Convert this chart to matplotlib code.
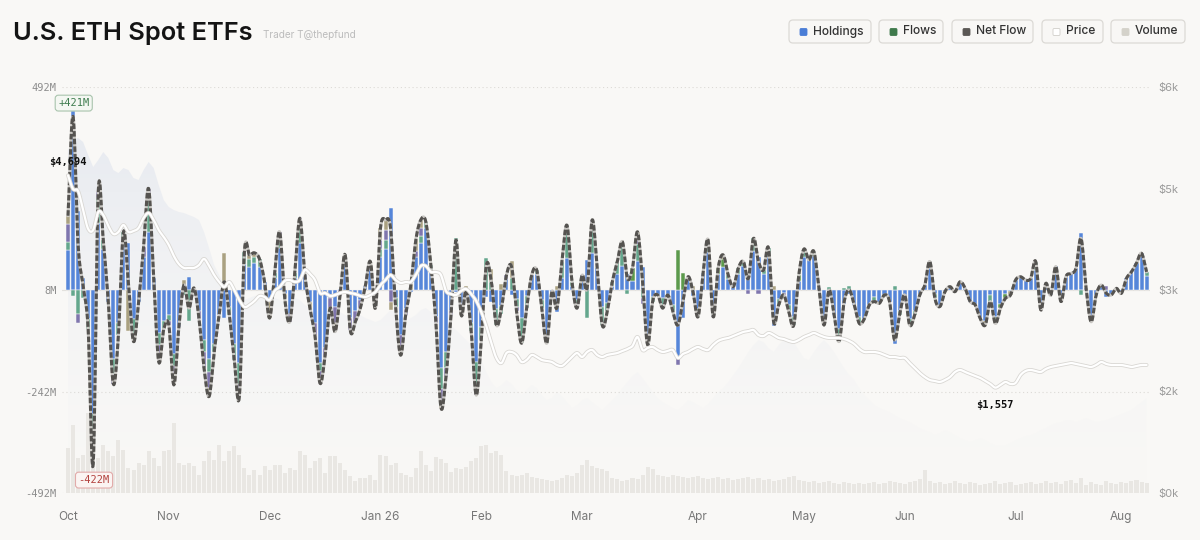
import numpy as np
import matplotlib
matplotlib.use('Agg')
import matplotlib.pyplot as plt
from matplotlib.patches import FancyBboxPatch
from matplotlib.colors import ListedColormap

plt.rcParams['font.family'] = ['Inter', 'DejaVu Sans']

# ---------------- data (daily, trading days Oct 2025 -> Aug 2026) ----------------
net_flow = [
    180, 421, 110, 10, -95, -422, 238, 120, -30, -228,
    -110, 141, 15, -125, -30, 105, 246, 30, -174, -95,
    -85, -230, -90, 12, -44, 5, -70, -190, -258, -150,
    -60, 20, -60, -170, -258, 93, 85, 90, 75, 20,
    -68, 40, 141, -20, -77, 40, 174, 36, -44, -110,
    -226, -160, -44, -101, -12, 85, -97, -77, -44, 10,
    69, -44, 150, 170, 150, -40, -158, -60, 10, 120,
    170, 165, 60, -80, -285, -210, -60, 121, -60, 0,
    -100, -255, -120, 60, 20, -85, -44, 36, 57, -52,
    -129, -44, 36, 48, -44, -129, -4, -44, 69, 157,
    20, -44, 36, 4, 170, 53, -85, -52, 20, 69,
    117, 28, 53, 141, 20, -133, -28, -12, -44, -12,
    -52, -85, -28, 32, -4, -65, 40, 121, -65, 53,
    85, 36, 8, 53, 69, 28, 125, 69, 48, 101,
    -77, -36, -12, -52, -85, 36, 99, 73, 93, 4,
    -85, 0, -60, -125, -28, 0, -36, -81, -70, -36,
    -28, -32, -12, -28, -121, -60, -12, -85, -60, -12,
    12, 69, -20, -40, -4, 8, -4, 20, 4, -28,
    -36, -69, -85, -28, -81, -44, -20, -12, 24, 32,
    24, 28, 69, -48, 16, -12, 57, -28, 32, 40,
    53, 125, 4, -77, -12, 12, -8, -12, 4, -8,
    28, 44, 65, 89, 44]

# non-blue issuer parts (day index -> $M); blue is the remainder of the net flow
teal_part = {0: 20, 1: -14, 2: -57, 3: -20, 4: -25, 5: -50, 6: 60, 7: 20, 9: -35,
             10: -30, 11: 30, 13: -40, 16: 80, 18: -30, 19: -20, 20: -15, 21: -30,
             23: -13, 24: -76, 27: -30, 28: -30, 29: -20, 32: -20, 33: -40, 34: -50,
             35: 30, 36: 20, 37: 15, 38: 20, 41: 10, 42: 30, 45: 10, 46: 40, 50: -20,
             62: 20, 63: 20, 65: -20, 70: 15, 71: 15, 72: 10, 74: -50, 75: -40,
             77: 125, 80: -20, 81: -60, 82: -30, 83: 77, 84: 20, 85: -40, 86: -20,
             88: 30, 89: -20, 90: -60, 91: -30, 93: 10, 94: -20, 95: -20, 98: 40,
             99: 80, 100: 10, 101: -20, 103: -69, 104: 60, 106: -45, 107: -20,
             108: 10, 109: 30, 110: 60, 111: -10, 113: 40, 114: -20, 116: -10,
             118: -25, 120: -15, 125: -20, 127: 20, 128: -20, 131: 10, 133: 15,
             134: 10, 136: 30, 138: 10, 139: 20, 141: -15, 143: -15, 144: -20,
             146: 20, 148: 10, 150: -10, 151: 8, 153: -30, 154: 5, 155: 10,
             157: -15, 160: -10, 164: 10, 165: -10, 167: -15, 168: -10, 171: 15,
             172: -10, 183: -15, 184: -10, 192: 20, 201: -12, 203: -15, 214: 10}
purple_part = {0: 44, 2: -24, 5: -45, 6: 15, 9: -25, 13: -15, 15: 25, 16: 25, 18: -20,
               20: -10, 21: -25, 26: -20, 27: -40, 28: -40, 34: -30, 42: 10, 44: -20,
               46: 20, 49: -30, 50: -30, 51: -20, 52: -25, 53: -40, 54: -15, 55: 20,
               56: -30, 57: -25, 58: -20, 60: 20, 62: 20, 63: 25, 64: -30, 66: -30,
               67: -15, 69: 15, 70: 20, 73: -15, 74: -30, 75: -20, 76: -10, 78: -15,
               81: -20, 87: 10, 89: -10, 104: 20, 113: 10, 114: -15, 121: -20,
               128: -5, 135: -10, 137: -10, 142: -5, 206: 10}
tan_part = {0: 20, 5: -27, 12: -100, 18: -20, 21: -20, 23: 25, 28: -20, 31: 89, 36: 10,
            37: 10, 40: -40, 43: -10, 48: -15, 53: -20, 61: -10, 62: 30, 63: 25,
            64: -18, 66: -20, 68: 15, 69: 25, 70: 20, 74: -15, 78: -10, 79: 10,
            84: 30, 86: 15, 88: 40, 97: 10, 113: 20, 124: 10, 127: 10, 130: 10,
            140: 10, 182: -10, 184: -5, 187: -10}
green_part = {112: 30, 121: 97, 122: 40, 129: 15, 130: 20, 145: 15, 185: -10, 186: -10}

price = [
    4694, 4493, 4463, 4183, 3902, 3887, 4153, 4109, 3946, 3828,
    3857, 3961, 3857, 3872, 3917, 4065, 4138, 4035, 3887, 3784,
    3665, 3503, 3385, 3326, 3326, 3326, 3370, 3459, 3355, 3222,
    3119, 3045, 3119, 3000, 2852, 2749, 2779, 2838, 2912, 2897,
    2852, 2986, 3045, 3133, 3148, 3119, 3148, 3296, 3237, 3148,
    2956, 2956, 2912, 2926, 2956, 2971, 2956, 2941, 2912, 2897,
    2926, 2971, 3074, 3148, 3222, 3148, 3104, 3119, 3119, 3222,
    3355, 3355, 3267, 3267, 3222, 2986, 2941, 2926, 2986, 3015,
    2941, 2838, 2675, 2468, 2217, 1995, 1921, 2069, 2084, 2040,
    1936, 1966, 2040, 2010, 1966, 1951, 1936, 1892, 1877, 1936,
    2010, 2069, 2010, 2084, 2113, 2040, 2010, 2040, 2054, 2069,
    2099, 2128, 2173, 2306, 2113, 2143, 2158, 2113, 2084, 2099,
    2113, 1995, 2054, 2084, 2128, 2158, 2128, 2113, 2187, 2247,
    2276, 2291, 2320, 2350, 2380, 2394, 2409, 2335, 2320, 2365,
    2335, 2291, 2276, 2247, 2232, 2261, 2306, 2335, 2365, 2335,
    2306, 2291, 2291, 2291, 2276, 2247, 2202, 2128, 2084, 2084,
    2084, 2069, 2040, 2010, 2010, 1995, 1995, 1921, 1847, 1774,
    1714, 1670, 1655, 1641, 1670, 1714, 1788, 1818, 1788, 1759,
    1729, 1700, 1655, 1611, 1557, 1596, 1641, 1611, 1626, 1744,
    1803, 1818, 1803, 1788, 1833, 1862, 1877, 1892, 1907, 1921,
    1907, 1892, 1877, 1862, 1892, 1936, 1907, 1892, 1892, 1892,
    1877, 1862, 1877, 1892, 1892]

volume = [
    45, 68, 35, 38, 80, 60, 35, 48, 42, 37,
    53, 43, 25, 23, 30, 28, 42, 35, 27, 42,
    43, 70, 30, 28, 30, 27, 18, 32, 42, 33,
    48, 32, 42, 47, 38, 25, 18, 23, 18, 27,
    23, 28, 28, 20, 25, 23, 42, 38, 25, 32,
    35, 20, 37, 37, 30, 23, 17, 12, 15, 15,
    18, 13, 38, 37, 28, 30, 20, 18, 16, 25,
    42, 28, 22, 36, 34, 30, 21, 25, 24, 26,
    32, 35, 47, 48, 40, 42, 38, 22, 18, 17,
    18, 20, 16, 15, 14, 13, 12, 13, 15, 18,
    17, 20, 28, 33, 27, 25, 24, 22, 15, 14,
    12, 13, 15, 14, 18, 26, 24, 18, 17, 16,
    18, 17, 16, 15, 16, 17, 15, 14, 15, 16,
    14, 15, 13, 14, 15, 16, 14, 15, 13, 14,
    12, 13, 14, 16, 17, 13, 12, 11, 12, 10,
    11, 12, 10, 9, 11, 10, 9, 10, 9, 10,
    11, 9, 10, 12, 11, 10, 9, 11, 12, 14,
    23, 12, 10, 11, 9, 10, 12, 10, 9, 11,
    10, 8, 9, 10, 12, 9, 10, 11, 8, 9,
    10, 11, 9, 10, 12, 10, 11, 9, 12, 13,
    10, 15, 8, 11, 9, 8, 12, 10, 9, 11,
    10, 12, 13, 11, 10]

holdings_area = [
    5069, 5217, 5246, 5187, 4995, 4818, 4921, 5039, 4951, 4773,
    4729, 4803, 4773, 4655, 4626, 4773, 4892, 4803, 4552, 4330,
    4227, 4182, 4153, 4138, 4108, 4079, 4034, 3857, 3621, 3369,
    3222, 3074, 2926, 2852, 2823, 2852, 2882, 2911, 2926, 2926,
    2911, 2882, 2852, 2823, 2852, 2882, 2852, 2778, 2734, 2704,
    2675, 2704, 2734, 2704, 2675, 2630, 2586, 2616, 2630, 2586,
    2557, 2527, 2557, 2630, 2704, 2675, 2586, 2527, 2586, 2630,
    2704, 2734, 2675, 2630, 2586, 2527, 2468, 2409, 2335, 2261,
    2187, 2113, 1965, 1788, 1640, 1552, 1596, 1670, 1611, 1522,
    1448, 1522, 1596, 1552, 1448, 1374, 1404, 1493, 1433, 1345,
    1256, 1300, 1374, 1404, 1345, 1286, 1227, 1300, 1374, 1448,
    1552, 1640, 1729, 1788, 1700, 1596, 1493, 1404, 1345, 1300,
    1256, 1227, 1286, 1374, 1345, 1300, 1256, 1315, 1404, 1493,
    1552, 1640, 1744, 1847, 1965, 2084, 2187, 2261, 2232, 2143,
    2084, 2187, 2261, 2291, 2232, 2113, 1995, 1965, 2084, 2187,
    2261, 2187, 2084, 1965, 1847, 1744, 1670, 1552, 1448, 1374,
    1300, 1256, 1227, 1197, 1153, 1108, 1079, 1049, 1005, 961,
    931, 901, 857, 887, 931, 901, 857, 813, 783, 754,
    783, 813, 783, 739, 709, 695, 709, 739, 783, 813,
    842, 857, 887, 931, 961, 1005, 1034, 1049, 1079, 1079,
    1049, 1079, 1108, 1079, 1049, 1064, 1079, 1108, 1138, 1167,
    1197, 1227, 1286, 1345, 1404]

month_labels = ['Oct', 'Nov', 'Dec', 'Jan 26', 'Feb', 'Mar', 'Apr', 'May', 'Jun', 'Jul', 'Aug']
month_idx = [0, 20, 40, 62, 82, 102, 125, 146, 166, 188, 209]
left_ticks = [-492, -246, 0, 246, 492]
left_labels = ['-492M', '-242M', '8M', '', '492M']
right_ticks = [0, 1500, 3000, 4500, 6000]
right_labels = ['$0k', '$2k', '$3k', '$5k', '$6k']

# ---------------- helpers ----------------
N = len(net_flow)
x = np.arange(N)
net = np.array(net_flow, float)


def sparse(d):
    a = np.zeros(N)
    for k, v in d.items():
        a[k] = v
    return a


teal = sparse(teal_part)
purple = sparse(purple_part)
tan = sparse(tan_part)
green = sparse(green_part)
blue = net - teal - purple - tan - green


def catmull(xs, ys, n=10):
    ys = np.asarray(ys, float)
    P = np.concatenate([[2 * ys[0] - ys[1]], ys, [2 * ys[-1] - ys[-2]]])
    ox, oy = [], []
    t = np.linspace(0, 1, n, endpoint=False)
    for k in range(len(ys) - 1):
        p0, p1, p2, p3 = P[k], P[k + 1], P[k + 2], P[k + 3]
        y = 0.5 * (2 * p1 + (-p0 + p2) * t + (2 * p0 - 5 * p1 + 4 * p2 - p3) * t ** 2
                   + (-p0 + 3 * p1 - 3 * p2 + p3) * t ** 3)
        ox.extend(xs[k] + t * (xs[k + 1] - xs[k]))
        oy.extend(y)
    ox.append(xs[-1]); oy.append(ys[-1])
    return np.array(ox), np.array(oy)


BG = '#f9f8f6'
W, H = 1200, 540
fig = plt.figure(figsize=(12, 5.4), dpi=100, facecolor=BG)
rect = [62 / W, 47 / H, 1088 / W, 406 / H]
XL = (-1.19, 214.68)

ax_area = fig.add_axes(rect)
ax_vol = fig.add_axes(rect)
ax = fig.add_axes(rect)
ax_price = fig.add_axes(rect)
ax_area.set_facecolor(BG)
for a in (ax_vol, ax, ax_price):
    a.patch.set_alpha(0)
for a in (ax_area, ax_vol, ax, ax_price):
    for s in a.spines.values():
        s.set_visible(False)
    a.set_xlim(*XL)

# ---- background area with vertical gradient (fades towards the bottom) ----
ax_area.set_ylim(0, 6000)
poly = ax_area.fill_between(x, 0, holdings_area, facecolor='none', edgecolor='none')
g = np.linspace(0, 1, 256)
rgba = np.zeros((256, 4))
rgba[:, 0], rgba[:, 1], rgba[:, 2] = 0.875, 0.895, 0.935
rgba[:, 3] = 0.02 + 0.80 * g ** 1.7
cmap = ListedColormap(rgba)
grad = np.linspace(1, 0, 256).reshape(-1, 1)
im = ax_area.imshow(grad, extent=[XL[0], XL[1], 0, 6000], aspect='auto', cmap=cmap,
                    origin='upper', vmin=0, vmax=1, zorder=1, interpolation='bilinear')
im.set_clip_path(poly.get_paths()[0], transform=ax_area.transData)
ax_area.set_xlim(*XL); ax_area.set_ylim(0, 6000)
for gy in (6000, 1500, 0):
    ax_area.axhline(gy, color='#dcdad6', lw=0.8, ls=(0, (1, 2.5)), zorder=0.5)
ax_area.axhline(3000, color='#e3e1dd', lw=0.8, zorder=0.5)
ax_area.set_yticks([])
ax_area.set_xticks(month_idx)
ax_area.set_xticklabels(month_labels)
ax_area.tick_params(axis='x', length=0, pad=13, labelsize=8.5, labelcolor='#777777')

# ---- volume ----
ax_vol.set_ylim(0, 406)
ax_vol.bar(x, volume, width=0.8, color='#e9e7e3', edgecolor='none', zorder=1)
ax_vol.set_xticks([]); ax_vol.set_yticks([])

# ---- stacked flow bars ----
ax.set_ylim(-492, 492)
comps = [(blue, '#5686d9'), (teal, '#64a78d'), (green, '#5c9a4c'),
         (purple, '#7f76ae'), (tan, '#aaa181')]
pos_b = np.zeros(N); neg_b = np.zeros(N)
for vals, col in comps:
    p = np.where(vals > 0, vals, 0.0)
    n = np.where(vals < 0, vals, 0.0)
    mp = p > 0; mn = n < 0
    ax.bar(x[mp], p[mp], bottom=pos_b[mp], width=0.8, color=col,
           edgecolor=BG, linewidth=0.35, zorder=2)
    ax.bar(x[mn], n[mn], bottom=neg_b[mn], width=0.8, color=col,
           edgecolor=BG, linewidth=0.35, zorder=2)
    pos_b += p; neg_b += n

sx, sy = catmull(x, net)
ax.plot(sx, sy, color='#c9c7c3', lw=2.2, zorder=3, solid_capstyle='round')
ax.plot(sx, sy, color='#555350', lw=2.2, zorder=3.1, dashes=(1.8, 0.7))

ax.set_xticks([])
ax.set_yticks(left_ticks)
ax.set_yticklabels(left_labels, family='DejaVu Sans Mono')
ax.tick_params(axis='y', length=0, pad=4, labelsize=7.5, labelcolor='#8c8c8c')

imax = int(np.argmax(net)); imin = int(np.argmin(net))
ax.annotate(f'+{net[imax]:.0f}M', xy=(imax, net[imax]), xytext=(0.5, 9.5),
            textcoords='offset points', ha='center', va='center', fontsize=7.5,
            family='DejaVu Sans Mono', color='#3f7d4f', zorder=6,
            bbox=dict(boxstyle='round,pad=0.28,rounding_size=0.3', fc='#f4f7f2',
                      ec='#a9c4ad', lw=0.8))
ax.annotate(f'{net[imin]:.0f}M', xy=(imin, net[imin]), xytext=(0.6, -11.5),
            textcoords='offset points', ha='center', va='center', fontsize=7.5,
            family='DejaVu Sans Mono', color='#b3423f', zorder=6,
            bbox=dict(boxstyle='round,pad=0.28,rounding_size=0.3', fc='#fbf4f2',
                      ec='#e2abaa', lw=0.8))

# ---- price ----
ax_price.set_ylim(0, 6000)
px_, py_ = catmull(x, price)
ax_price.plot(px_, py_, color='#d9d7d3', lw=2.8, zorder=4, solid_capstyle='round')
ax_price.plot(px_, py_, color='#ffffff', lw=1.6, zorder=4.1, solid_capstyle='round')
ax_price.set_xticks([])
ax_price.yaxis.tick_right()
ax_price.set_yticks(right_ticks)
ax_price.set_yticklabels(right_labels)
ax_price.tick_params(axis='y', length=0, pad=6, labelsize=8, labelcolor='#9a9a9a')
pmax = int(np.argmax(price)); pmin = int(np.argmin(price))
ax_price.annotate(f'${price[pmax]:,}', xy=(pmax, price[pmax]), xytext=(0, 9.5),
                  textcoords='offset points', ha='center', va='center', fontsize=7.5,
                  family='DejaVu Sans Mono', fontweight='bold', color='#111111')
ax_price.annotate(f'${price[pmin]:,}', xy=(pmin, price[pmin]), xytext=(0, -12.5),
                  textcoords='offset points', ha='center', va='center', fontsize=7.5,
                  family='DejaVu Sans Mono', fontweight='bold', color='#111111')

# ---- title ----
fig.text(13 / W, 1 - 40 / H, 'U.S. ETH Spot ETFs', fontsize=18.3, fontweight='semibold',
         color='#141414', va='baseline', ha='left')
fig.text(263 / W, 1 - 38 / H, 'Trader T@thepfund', fontsize=7.2, color='#bcbcbc',
         va='baseline', ha='left')

# ---- legend buttons ----
legend_items = [('Holdings', '#4a7dd6', '#4a7dd6', 789, 871),
                ('Flows', '#3f7a4c', '#3f7a4c', 879, 943),
                ('Net Flow', '#5b5855', '#5b5855', 952, 1033),
                ('Price', '#ffffff', '#d0cec9', 1042, 1103),
                ('Volume', '#d4d2ca', '#d4d2ca', 1111, 1185)]
for label, fc, ec, x0, x1 in legend_items:
    box = FancyBboxPatch((x0 / 100, (H - 43) / 100), (x1 - x0) / 100, 23 / 100,
                         boxstyle='round,pad=0,rounding_size=0.04',
                         transform=fig.dpi_scale_trans, fc='#f8f7f5', ec='#dcdad6', lw=0.9)
    fig.add_artist(box)
    mk = FancyBboxPatch(((x0 + 11) / 100, (H - 35.5) / 100), 7 / 100, 7 / 100,
                        boxstyle='round,pad=0,rounding_size=0.012',
                        transform=fig.dpi_scale_trans, fc=fc, ec=ec, lw=0.6)
    fig.add_artist(mk)
    fig.text((x0 + 24) / W, 1 - 31.5 / H, label, fontsize=8.6, color='#333333',
             va='center', ha='left', fontweight='medium')

fig.savefig('out.png', dpi=100, facecolor=BG)
